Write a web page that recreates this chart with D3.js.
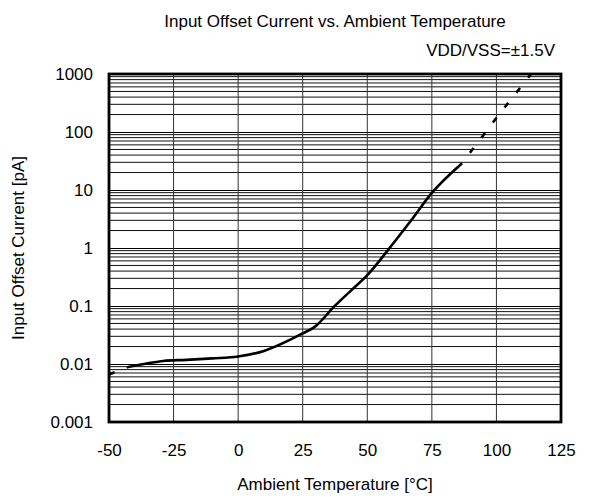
<!DOCTYPE html>
<html><head><meta charset="utf-8">
<script src="https://cdn.jsdelivr.net/npm/d3@7"></script>
<style>body{margin:0;background:#fff}svg{display:block}text{font-family:"Liberation Sans",Arial,sans-serif;fill:#000}</style>
</head><body><svg id="c" width="593" height="499"></svg>
<script>
const xTicks = [-50, -25, 0, 25, 50, 75, 100, 125];
const yTicks = [0.001, 0.01, 0.1, 1, 10, 100, 1000];
const yTickLabels = ["0.001", "0.01", "0.1", "1", "10", "100", "1000"];
const solidT = [-42.6, -35, -29, -20, -10, 0, 10, 20, 24, 30, 37, 44, 50, 58, 66.5, 75, 86.7];
const solidV = [0.0089, 0.0103, 0.0113, 0.0118, 0.0125, 0.0135, 0.0168, 0.026, 0.032, 0.045, 0.096, 0.19, 0.34, 0.92, 2.8, 8.9, 29];
const dashLowT = [-50, -42.6];
const dashLowV = [0.0066, 0.0089];
const dashHighT = [86.7, 100, 113.4];
const dashHighV = [29, 175, 1000];

const L = 109, R = 561, T = 74, B = 422;
const svg = d3.select("#c");
const x = d3.scaleLinear().domain([-50, 125]).range([L, R]);
const y = d3.scaleLog().domain([0.001, 1000]).range([B, T]);

// minor horizontal grid
const g = svg.append("g");
const minors = [];
for (let e = -3; e < 3; e++) for (let m = 2; m <= 9; m++) minors.push(m * Math.pow(10, e));
g.selectAll("line.mn").data(minors).enter().append("line")
  .attr("x1", L).attr("x2", R).attr("y1", d => y(d)).attr("y2", d => y(d))
  .attr("stroke", "#111").attr("stroke-width", 1);
g.selectAll("line.mj").data(yTicks).enter().append("line")
  .attr("x1", L).attr("x2", R).attr("y1", d => Math.round(y(d)) + 0.5).attr("y2", d => Math.round(y(d)) + 0.5)
  .attr("stroke", "#000").attr("stroke-width", 1);
g.selectAll("line.v").data(xTicks).enter().append("line")
  .attr("x1", d => x(d)).attr("x2", d => x(d)).attr("y1", T).attr("y2", B)
  .attr("stroke", "#333").attr("stroke-width", 1);

const clip = svg.append("clipPath").attr("id", "pc").append("rect")
  .attr("x", L).attr("y", T).attr("width", R - L).attr("height", B - T);

const line = d3.line().x(d => x(d[0])).y(d => y(d[1])).curve(d3.curveMonotoneX);
const cg = svg.append("g").attr("clip-path", "url(#pc)");
cg.append("path").attr("d", line(solidT.map((t, i) => [t, solidV[i]])))
  .attr("fill", "none").attr("stroke", "#000").attr("stroke-width", 2.6);
cg.append("path").attr("d", line(dashLowT.map((t, i) => [t, dashLowV[i]])))
  .attr("fill", "none").attr("stroke", "#000").attr("stroke-width", 2.6).attr("stroke-dasharray", "6,13");
cg.append("path").attr("d", d3.line().x(d => x(d[0])).y(d => y(d[1]))(dashHighT.map((t, i) => [t, dashHighV[i]])))
  .attr("fill", "none").attr("stroke", "#000").attr("stroke-width", 2.6).attr("stroke-dasharray", "0,13,6,0");

svg.append("rect").attr("x", L).attr("y", T).attr("width", R - L).attr("height", B - T)
  .attr("fill", "none").attr("stroke", "#000").attr("stroke-width", 2.8);

// axes
const xa = svg.append("g").attr("transform", `translate(0,${B})`)
  .call(d3.axisBottom(x).tickValues(xTicks).tickSize(0).tickPadding(22).tickFormat(d => String(d)));
xa.select(".domain").remove();
xa.selectAll("text").attr("font-size", 17).style("font-family", '"Liberation Sans",Arial,sans-serif');
const ya = svg.append("g").attr("transform", `translate(${L},0)`)
  .call(d3.axisLeft(y).tickValues(yTicks).tickSize(0).tickPadding(16).tickFormat((d, i) => yTickLabels[i]));
ya.select(".domain").remove();
ya.selectAll("text").attr("font-size", 17).style("font-family", '"Liberation Sans",Arial,sans-serif');

svg.append("text").attr("x", (L + R) / 2).attr("y", 27).attr("text-anchor", "middle").attr("font-size", 17)
  .text("Input Offset Current vs. Ambient Temperature");
svg.append("text").attr("x", 555).attr("y", 56).attr("text-anchor", "end").attr("font-size", 17)
  .text("VDD/VSS=±1.5V");
svg.append("text").attr("x", (L + R) / 2).attr("y", 490).attr("text-anchor", "middle").attr("font-size", 17)
  .text("Ambient Temperature [°C]");
svg.append("text").attr("transform", `translate(24,${(T + B) / 2}) rotate(-90)`).attr("text-anchor", "middle").attr("font-size", 17)
  .text("Input Offset Current [pA]");
</script></body></html>
